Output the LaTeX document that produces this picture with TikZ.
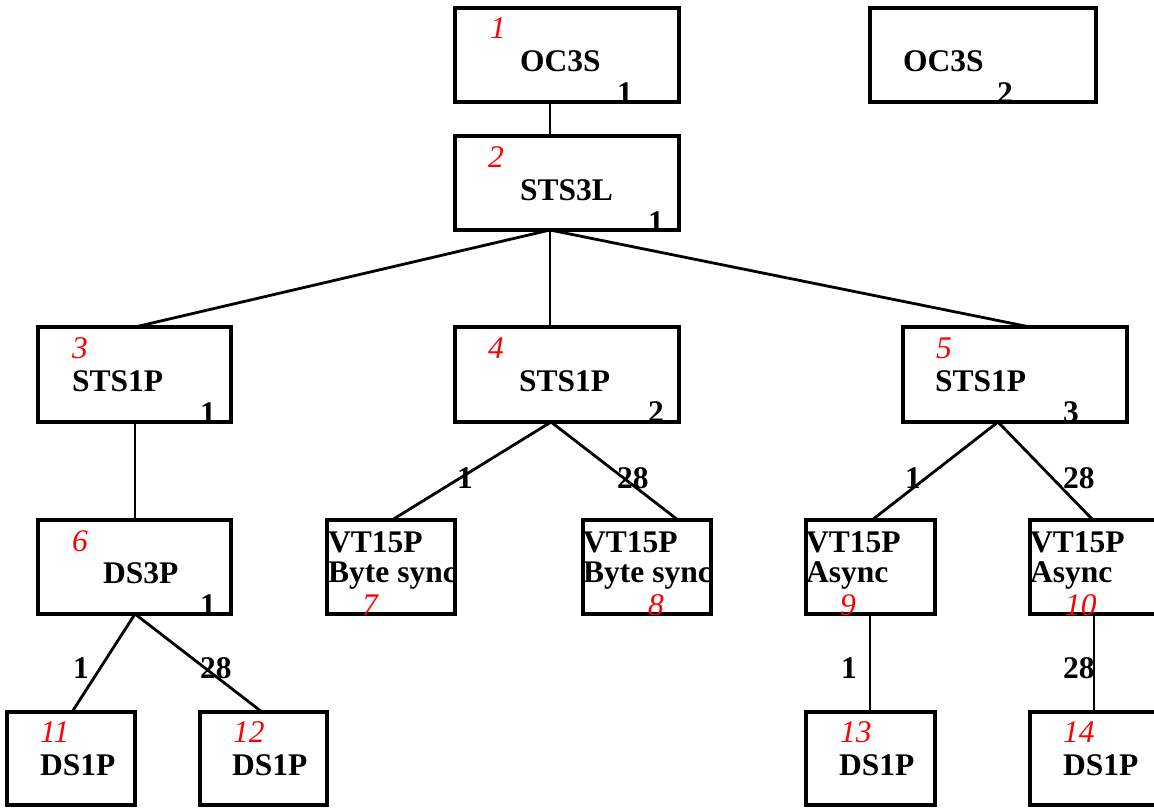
\documentclass[tikz,border=0pt]{standalone}
\usepackage{fontspec}
\setmainfont{Liberation Serif}
\begin{document}
\begin{tikzpicture}[x=1pt,y=-1pt,
  box/.style={draw=black,line width=3.6pt,fill=none,inner sep=0pt,outer sep=0pt,anchor=north west},
  conn/.style={draw=black,line width=2.8pt},
  lbl/.style={inner sep=0pt,anchor=base west,font=\fontsize{31.5}{34}\selectfont\bfseries},
  num/.style={inner sep=0pt,anchor=base west,text=red,font=\fontsize{31.5}{34}\selectfont\itshape}]
\useasboundingbox (0,0) rectangle (1154,808);
\clip (0,0) rectangle (1154,808);
% boxes
\node[box,minimum width=224pt,minimum height=94pt] (b1) at (455,8) {};
\node[box,minimum width=226pt,minimum height=94pt] (b1b) at (870,8) {};
\node[box,minimum width=224pt,minimum height=94pt] (b2) at (455,136) {};
\node[box,minimum width=193pt,minimum height=95pt] (b3) at (38,327) {};
\node[box,minimum width=224pt,minimum height=95pt] (b4) at (455,327) {};
\node[box,minimum width=224pt,minimum height=95pt] (b5) at (903,327) {};
\node[box,minimum width=193pt,minimum height=94pt] (b6) at (38,520) {};
\node[box,minimum width=128pt,minimum height=94pt] (b7) at (327,520) {};
\node[box,minimum width=128pt,minimum height=94pt] (b8) at (583,520) {};
\node[box,minimum width=129pt,minimum height=94pt] (b9) at (806,520) {};
\node[box,minimum width=129pt,minimum height=94pt] (b10) at (1030,520) {};
\node[box,minimum width=128pt,minimum height=93pt] (b11) at (7,712) {};
\node[box,minimum width=127pt,minimum height=93pt] (b12) at (200,712) {};
\node[box,minimum width=129pt,minimum height=93pt] (b13) at (806,712) {};
\node[box,minimum width=129pt,minimum height=93pt] (b14) at (1030,712) {};
% connectors
\draw[conn] ([xshift=95pt]b1.south west) -- ([xshift=95pt]b2.north west);
\draw[conn] ([xshift=95pt]b2.south west) -- ([xshift=97pt]b3.north west);
\draw[conn] ([xshift=95pt]b2.south west) -- ([xshift=95pt]b4.north west);
\draw[conn] ([xshift=95pt]b2.south west) -- ([xshift=127pt]b5.north west);
\draw[conn] ([xshift=97pt]b3.south west) -- ([xshift=97pt]b6.north west);
\draw[conn] ([xshift=96pt]b4.south west) -- ([xshift=65pt]b7.north west);
\draw[conn] ([xshift=96pt]b4.south west) -- ([xshift=95pt]b8.north west);
\draw[conn] ([xshift=95pt]b5.south west) -- ([xshift=66pt]b9.north west);
\draw[conn] ([xshift=95pt]b5.south west) -- ([xshift=63pt]b10.north west);
\draw[conn] ([xshift=97pt]b6.south west) -- ([xshift=65pt]b11.north west);
\draw[conn] ([xshift=97pt]b6.south west) -- ([xshift=62pt]b12.north west);
\draw[conn] ([xshift=64pt]b9.south west) -- ([xshift=64pt]b13.north west);
\draw[conn] ([xshift=64pt]b10.south west) -- ([xshift=64pt]b14.north west);
% connector labels
\node[lbl] (e7) at (457,488) {1};
\node[lbl] (e8) at (617,488) {28};
\node[lbl] (e9) at (905,488) {1};
\node[lbl] (e10) at (1063,488) {28};
\node[lbl] (e11) at (73,678) {1};
\node[lbl] (e12) at (200,678) {28};
\node[lbl] (e13) at (841,678) {1};
\node[lbl] (e14) at (1063,678) {28};
% box texts
\node[num] (n1) at (490,39) {1};
\node[lbl] (t1) at (520,72) {OC3S};
\node[lbl] (c1) at (617,103) {1};
\node[lbl] (t1b) at (903,72) {OC3S};
\node[lbl] (c1b) at (997,103) {2};
\node[num] (n2) at (488,167) {2};
\node[lbl] (t2) at (520,200) {STS3L};
\node[lbl] (c2) at (648,232) {1};
\node[num] (n3) at (72,358) {3};
\node[lbl] (t3) at (72,391) {STS1P};
\node[lbl] (c3) at (200,423) {1};
\node[num] (n4) at (488,358) {4};
\node[lbl] (t4) at (519,391) {STS1P};
\node[lbl] (c4) at (648,422) {2};
\node[num] (n5) at (936,358) {5};
\node[lbl] (t5) at (935,391) {STS1P};
\node[lbl] (c5) at (1063,422) {3};
\node[num] (n6) at (72,551) {6};
\node[lbl] (t6) at (103,583) {DS3P};
\node[lbl] (c6) at (200,615) {1};
\begin{scope}
\clip (b7.south west) rectangle (b7.north east);
\node[lbl] (t7) at (328,552) {VT15P};
\node[lbl] (u7) at (328,582) {Byte sync};
\node[num] (n7) at (362,615) {7};
\end{scope}
\begin{scope}
\clip (b8.south west) rectangle (b8.north east);
\node[lbl] (t8) at (583,552) {VT15P};
\node[lbl] (u8) at (583,582) {Byte sync};
\node[num] (n8) at (648,615) {8};
\end{scope}
\node[lbl] (t9) at (806,552) {VT15P};
\node[lbl] (u9) at (806,582) {Async};
\node[num] (n9) at (840,615) {9};
\node[lbl] (t10) at (1030,552) {VT15P};
\node[lbl] (u10) at (1030,582) {Async};
\node[num] (n10) at (1065,615) {10};
\node[num] (n11) at (40,742) {11};
\node[lbl] (t11) at (40,775) {DS1P};
\node[num] (n12) at (233,742) {12};
\node[lbl] (t12) at (232,775) {DS1P};
\node[num] (n13) at (840,742) {13};
\node[lbl] (t13) at (839,775) {DS1P};
\node[num] (n14) at (1063,742) {14};
\node[lbl] (t14) at (1063,775) {DS1P};
\end{tikzpicture}
\end{document}
